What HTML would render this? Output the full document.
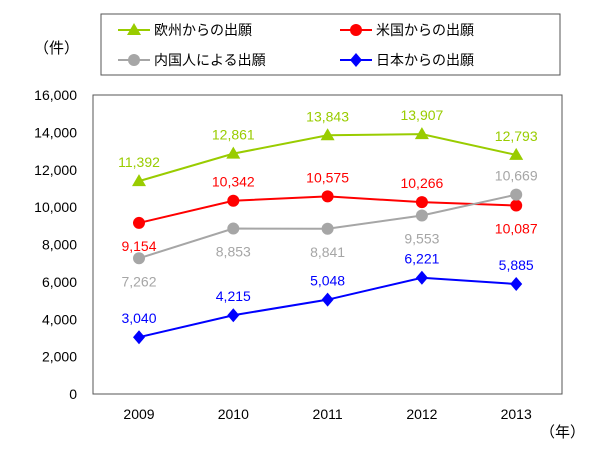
<!DOCTYPE html>
<html><head><meta charset="utf-8"><style>
body{margin:0;background:#fff;}
svg text{font-family:"Liberation Sans","Noto Sans CJK JP",sans-serif;}
</style></head><body>
<svg width="600" height="452" xmlns="http://www.w3.org/2000/svg">
<rect x="0" y="0" width="600" height="452" fill="#fff"/>
<rect x="101" y="14" width="459" height="61" fill="#fff" stroke="#555" stroke-width="1"/>
<g id="legend"></g>
<text x="34" y="53" font-size="15" fill="#000">（件）</text>
<rect x="93" y="95" width="469" height="299" fill="none" stroke="#555" stroke-width="1"/>
<g id="axes"></g>
<g id="series"></g>
<text x="540" y="437" font-size="15" fill="#000">（年）</text>
</svg>
<script>
const categories=["2009","2010","2011","2012","2013"];
const europe=[11392,12861,13843,13907,12793];
const usa=[9154,10342,10575,10266,10087];
const domestic=[7262,8853,8841,9553,10669];
const japan=[3040,4215,5048,6221,5885];
const yTicks=[0,2000,4000,6000,8000,10000,12000,14000,16000];
const seriesNames=["欧州からの出願","米国からの出願","内国人による出願","日本からの出願"];
const NS="http://www.w3.org/2000/svg";
function xPos(i){return 139+i*94.3;}
function yPos(v){return 394-v/16000*299;}
function el(t,a,p){const e=document.createElementNS(NS,t);for(const k in a)e.setAttribute(k,a[k]);p.appendChild(e);return e;}
function fmt(v){return v.toLocaleString('en-US');}
const axes=document.getElementById('axes');
yTicks.forEach(v=>{const t=el('text',{x:77,y:yPos(v)+5,'font-size':14,'text-anchor':'end',fill:'#000'},axes);t.textContent=fmt(v);

});
categories.forEach((c,i)=>{const t=el('text',{x:xPos(i),y:419,'font-size':14,'text-anchor':'middle',fill:'#000'},axes);t.textContent=c;

});
const S=[
 {d:europe,c:'#99cc00',lc:'#99cc00',m:'tri',name:'europe',lab:-14},
 {d:usa,c:'#ff0000',lc:'#ff0000',m:'circle',name:'usa',lab:[28,-14,-14,-14,28]},
 {d:domestic,c:'#a6a6a6',lc:'#a6a6a6',m:'circle',name:'domestic',lab:[28,28,28,28,-14]},
 {d:japan,c:'#0000ff',lc:'#0000ff',m:'diamond',name:'japan',lab:-14}
];
const g=document.getElementById('series');
function marker(m,x,y,c,p){
 let e;
 if(m==='tri')e=el('polygon',{points:`${x},${y-7} ${x-7},${y+5} ${x+7},${y+5}`,fill:c},p);
 else if(m==='circle')e=el('circle',{cx:x,cy:y,r:6,fill:c},p);
 else e=el('polygon',{points:`${x},${y-7} ${x+6},${y} ${x},${y+7} ${x-6},${y}`,fill:c},p);
 return e;}
S.forEach(s=>{
 const pts=s.d.map((v,i)=>xPos(i)+','+yPos(v)).join(' ');
 const l=el('polyline',{points:pts,fill:'none',stroke:s.lc,'stroke-width':2},g);
 
 
 s.d.forEach((v,i)=>{
  const x=xPos(i),y=yPos(v);
  const mk=marker(s.m,x,y,s.c,g);
  
  
  const off=Array.isArray(s.lab)?s.lab[i]:s.lab;
  const t=el('text',{x:x,y:y+off,'font-size':14,'text-anchor':'middle',fill:s.c},g);
  t.textContent=fmt(v);
  
  
 });
});
const lg=document.getElementById('legend');
const lp=[[145,30],[367,30],[145,60],[367,60]];
S.forEach((s,i)=>{
 const [x,y]=lp[i];
 const gg=el('g',{},lg);
 
 
 el('line',{x1:x-27,y1:y,x2:x+5,y2:y,stroke:s.lc,'stroke-width':2},gg);
 marker(s.m,x-11,y,s.c,gg);
 const t=el('text',{x:x+9,y:y+5,'font-size':14,fill:'#000'},gg);t.textContent=seriesNames[i];
});
</script>
</body></html>
